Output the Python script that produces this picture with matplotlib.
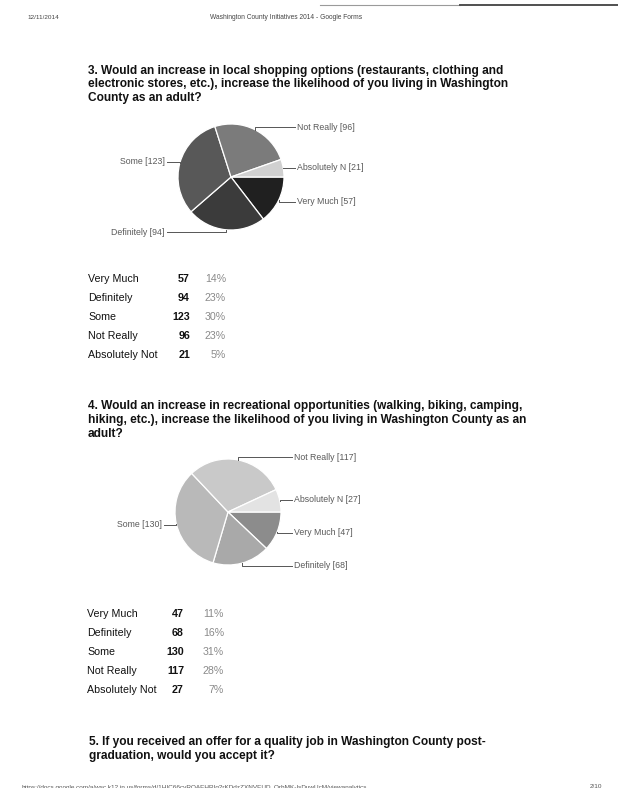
import numpy as np
import matplotlib
matplotlib.use("Agg")
import matplotlib.pyplot as plt

plt.rcParams['font.family'] = ['Liberation Sans', 'DejaVu Sans']

W, H = 618, 788

categories = ["Very Much", "Definitely", "Some", "Not Really", "Absolutely Not"]
pie_labels = ["Very Much", "Definitely", "Some", "Not Really", "Absolutely N"]

q3_counts = [57, 94, 123, 96, 21]
q3_pcts = ["14%", "23%", "30%", "23%", "5%"]
q3_colors = ["#202020", "#3b3b3b", "#585858", "#7b7b7b", "#d0d0d0"]

q4_counts = [47, 68, 130, 117, 27]
q4_pcts = ["11%", "16%", "31%", "28%", "7%"]
q4_colors = ["#8c8c8c", "#a9a9a9", "#b9b9b9", "#c9c9c9", "#e3e3e3"]

q3_title = ("3. Would an increase in local shopping options (restaurants, clothing and\n"
            "electronic stores, etc.), increase the likelihood of you living in Washington\n"
            "County as an adult?")
q4_title = ("4. Would an increase in recreational opportunities (walking, biking, camping,\n"
            "hiking, etc.), increase the likelihood of you living in Washington County as an\n"
            "adult?")
q5_title = ("5. If you received an offer for a quality job in Washington County post-\n"
            "graduation, would you accept it?")

header_date = "12/11/2014"
header_title = "Washington County Initiatives 2014 - Google Forms"
footer_url = ("https://docs.google.com/a/wsc.k12.in.us/forms/d/1HIC66cvRQAEHRIg2rKDdzZXNVEUD_"
              "OrhMK-IsDuwUcM/viewanalytics")
footer_page = "2/10"

fig = plt.figure(figsize=(W / 100, H / 100), dpi=100)
page = fig.add_axes([0, 0, 1, 1])
page.set_xlim(0, W)
page.set_ylim(H, 0)
page.axis("off")


def draw_pie(cx, cy, r, counts, colors):
    ax = fig.add_axes([(cx - r) / W, 1 - (cy + r) / H, 2 * r / W, 2 * r / H])
    wedges, _ = ax.pie(counts, colors=colors, startangle=0, counterclock=False,
                       wedgeprops=dict(edgecolor="white", linewidth=0.9))
    ax.set_xlim(-1, 1)
    ax.set_ylim(-1, 1)
    ax.set_aspect("auto")
    for w, name, n in zip(wedges, pie_labels, counts):
        mid = np.deg2rad((w.theta1 + w.theta2) / 2)
        ex, ey = np.cos(mid), np.sin(mid)
        ly = 1.05 * ey
        if ex >= 0:
            lx, tx, ha = 1.20, 1.24, "left"
        else:
            lx, tx, ha = -1.21, -1.25, "right"
        ax.plot([ex, ex, lx], [ey, ly, ly], color="#555555", lw=0.7, clip_on=False)
        ax.text(tx, ly, f"{name} [{n}]", ha=ha, va="center", fontsize=6.3,
                color="#5a5a5a", clip_on=False)


def draw_table(x, y0, count_x, pct_x, counts, pcts):
    for i, (cat, n, p) in enumerate(zip(categories, counts, pcts)):
        y = y0 + i * 19
        page.text(x, y, cat, ha="left", va="center", fontsize=7.7, color="#111111")
        page.text(count_x, y, str(n), ha="right", va="center", fontsize=7.7,
                  fontweight="bold", color="#111111")
        page.text(pct_x, y, p, ha="right", va="center", fontsize=7.7, color="#8a8a8a")


# header / footer of the scanned page
page.text(27, 17, header_date, ha="left", va="center", fontsize=4.6, color="#444444")
page.text(210, 17, header_title, ha="left", va="center", fontsize=4.8, color="#444444")
page.plot([320, 460], [5, 5], color="#9a9a9a", lw=0.8)
page.plot([460, 618], [5, 5], color="#505050", lw=1.4)
page.text(22, 787, footer_url, ha="left", va="center", fontsize=4.6, color="#555555")
page.text(590, 787, footer_page, ha="left", va="center", fontsize=4.6, color="#555555")

title_kw = dict(ha="left", va="top", fontsize=8.6, fontweight="bold",
                color="#111111", linespacing=1.2)

# question 3
page.text(88, 64.5, q3_title, **title_kw)
draw_pie(231, 177, 53, q3_counts, q3_colors)
draw_table(88, 279, 190, 226, q3_counts, q3_pcts)

# question 4
page.text(88, 400, q4_title, **title_kw)
draw_pie(228, 512, 53, q4_counts, q4_colors)
draw_table(87, 614, 184, 224, q4_counts, q4_pcts)

# question 5
page.text(89, 736, q5_title, **title_kw)

fig.savefig("out.png", dpi=100, facecolor="white")
